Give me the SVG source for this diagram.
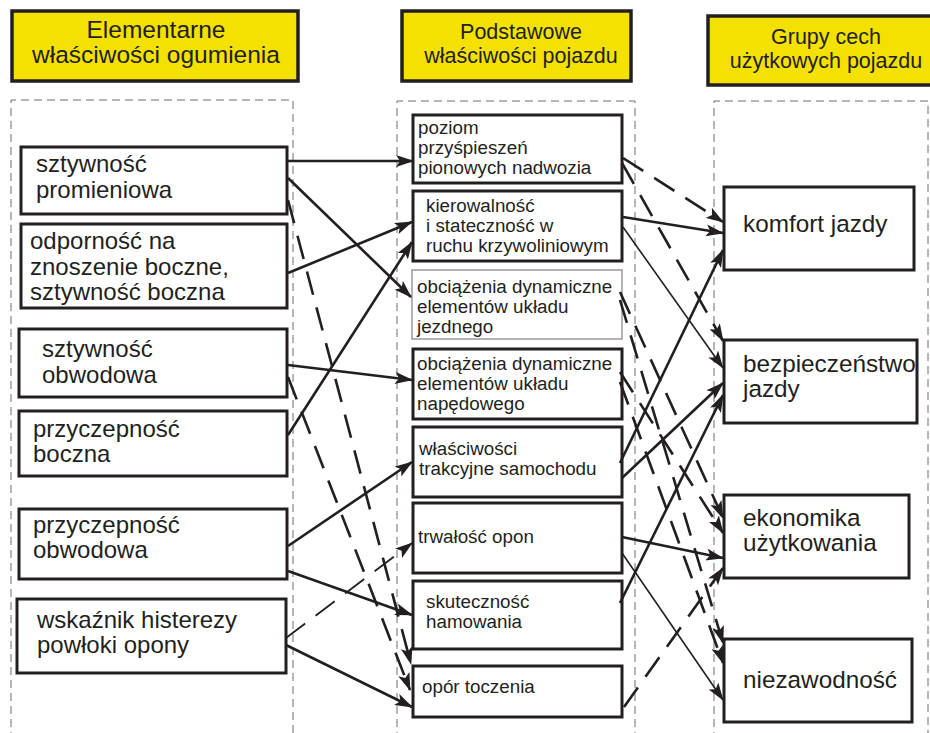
<svg xmlns="http://www.w3.org/2000/svg" width="930" height="733" viewBox="0 0 930 733">
<defs>
<style>
.hdr{fill:#f5e100;stroke:#231f20;stroke-width:3.5}
.col{fill:none;stroke:#6d6e71;stroke-width:1;stroke-dasharray:8 5}
.box{fill:#fff;stroke:#231f20;stroke-width:3}
.thin{fill:#fff;stroke:#8a8a8a;stroke-width:1.3}
text{font-family:"Liberation Sans",Arial,sans-serif;fill:#231f20}
.ht{font-size:24.5px;text-anchor:middle}
.hm{font-size:21.5px;text-anchor:middle}
.lt{font-size:24px}
.mt{font-size:18.8px}
.rt{font-size:24.3px}
.s{fill:none;stroke:#231f20;stroke-width:2.6;marker-end:url(#ah)}
.sn{fill:none;stroke:#231f20;stroke-width:1.6;marker-end:url(#ah)}
.d{fill:none;stroke:#231f20;stroke-width:2.6;stroke-dasharray:24 13;marker-end:url(#ah)}
.dn{fill:none;stroke:#231f20;stroke-width:1.8;stroke-dasharray:24 13;marker-end:url(#ah)}
</style>
<marker id="ah" markerWidth="18" markerHeight="12" refX="17" refY="6" orient="auto" markerUnits="userSpaceOnUse">
<path d="M0,0 L18,6 L0,12 L4,6 z" fill="#231f20"/>
</marker>
</defs>
<rect width="930" height="733" fill="#fff"/>

<g id="columns">
<path class="col" d="M11,740 V100 H293 V740"/>
<path class="col" d="M397,740 V101 H635 V740"/>
<path class="col" d="M714,740 V101 H928 V740"/>
</g>

<g id="header-left">
<rect class="hdr" x="12" y="11" width="286" height="70"/>
<text class="ht" x="156" y="38">Elementarne</text>
<text class="ht" x="156" y="63">właściwości ogumienia</text>
</g>
<g id="header-middle">
<rect class="hdr" x="402" y="11" width="229" height="70"/>
<text class="hm" x="521" y="39">Podstawowe</text>
<text class="hm" x="521" y="63">właściwości pojazdu</text>
</g>
<g id="header-right">
<rect class="hdr" x="708" y="16" width="230" height="69"/>
<text class="hm" x="826" y="44">Grupy cech</text>
<text class="hm" x="826" y="68">użytkowych pojazdu</text>
</g>

<g id="n-sztywnosc-promieniowa">
<rect class="box" x="21" y="147" width="266" height="67"/>
<text class="lt" x="36" y="172">sztywność</text>
<text class="lt" x="36" y="198">promieniowa</text>
</g>
<g id="n-odpornosc">
<rect class="box" x="21" y="224" width="266" height="84"/>
<text class="lt" x="30" y="249">odporność na</text>
<text class="lt" x="30" y="275">znoszenie boczne,</text>
<text class="lt" x="30" y="300">sztywność boczna</text>
</g>
<g id="n-sztywnosc-obwodowa">
<rect class="box" x="19" y="329" width="268" height="68"/>
<text class="lt" x="42" y="357">sztywność</text>
<text class="lt" x="42" y="383">obwodowa</text>
</g>
<g id="n-przyczepnosc-boczna">
<rect class="box" x="19" y="411" width="268" height="65"/>
<text class="lt" x="33" y="437">przyczepność</text>
<text class="lt" x="33" y="462">boczna</text>
</g>
<g id="n-przyczepnosc-obwodowa">
<rect class="box" x="19" y="509" width="268" height="70"/>
<text class="lt" x="33" y="533">przyczepność</text>
<text class="lt" x="33" y="558">obwodowa</text>
</g>
<g id="n-wskaznik">
<rect class="box" x="17" y="599" width="269" height="74"/>
<text class="lt" x="37" y="628">wskaźnik histerezy</text>
<text class="lt" x="37" y="653">powłoki opony</text>
</g>

<g id="n-poziom">
<rect class="box" x="413" y="115" width="209" height="68"/>
<text class="mt" x="418" y="134">poziom</text>
<text class="mt" x="418" y="154">przyśpieszeń</text>
<text class="mt" x="418" y="174">pionowych nadwozia</text>
</g>
<g id="n-kierowalnosc">
<rect class="box" x="413" y="191" width="209" height="70"/>
<text class="mt" x="426" y="212">kierowalność</text>
<text class="mt" x="426" y="232">i stateczność w</text>
<text class="mt" x="426" y="252">ruchu krzywoliniowym</text>
</g>
<g id="n-obciazenia-jezdnego">
<rect class="thin" x="412" y="270" width="210" height="69"/>
<text class="mt" x="417" y="293">obciążenia dynamiczne</text>
<text class="mt" x="417" y="313">elementów układu</text>
<text class="mt" x="417" y="333">jezdnego</text>
</g>
<g id="n-obciazenia-napedowego">
<rect class="box" x="413" y="349" width="209" height="70"/>
<text class="mt" x="417" y="370">obciążenia dynamiczne</text>
<text class="mt" x="417" y="390">elementów układu</text>
<text class="mt" x="417" y="410">napędowego</text>
</g>
<g id="n-trakcyjne">
<rect class="box" x="413" y="427" width="209" height="70"/>
<text class="mt" x="419" y="455">właściwości</text>
<text class="mt" x="419" y="475">trakcyjne samochodu</text>
</g>
<g id="n-trwalosc">
<rect class="box" x="413" y="503" width="209" height="70"/>
<text class="mt" x="418" y="543">trwałość opon</text>
</g>
<g id="n-skutecznosc">
<rect class="box" x="413" y="581" width="209" height="68"/>
<text class="mt" x="426" y="608">skuteczność</text>
<text class="mt" x="426" y="628">hamowania</text>
</g>
<g id="n-opor">
<rect class="box" x="413" y="666" width="209" height="51"/>
<text class="mt" x="422" y="693">opór toczenia</text>
</g>

<g id="n-komfort">
<rect class="box" x="724" y="187" width="190" height="83"/>
<text class="rt" x="743" y="232">komfort jazdy</text>
</g>
<g id="n-bezpieczenstwo">
<rect class="box" x="724" y="340" width="193" height="83"/>
<text class="rt" x="743" y="372">bezpieczeństwo</text>
<text class="rt" x="743" y="397">jazdy</text>
</g>
<g id="n-ekonomika">
<rect class="box" x="724" y="495" width="185" height="83"/>
<text class="rt" x="743" y="526">ekonomika</text>
<text class="rt" x="743" y="551">użytkowania</text>
</g>
<g id="n-niezawodnosc">
<rect class="box" x="724" y="639" width="188" height="83"/>
<text class="rt" x="743" y="688">niezawodność</text>
</g>

<g id="connectors">
<path class="s" d="M288,161 L413,161"/>
<path class="s" d="M288,178 L411,297"/>
<path class="s" d="M288,273 L412,222"/>
<path class="s" d="M288,365 L412,380"/>
<path class="s" d="M288,435 L412,242"/>
<path class="s" d="M288,546 L412,462"/>
<path class="s" d="M288,571 L412,615"/>
<path class="s" d="M286,645 L412,707"/>
<path class="d" d="M288,200 L411,664"/>
<path class="d" d="M288,377 L410,690"/>
<path class="dn" d="M286,638 L412,543"/>

<path class="s" d="M623,217 L723,233"/>
<path class="s" d="M620,463 L723,250"/>
<path class="s" d="M622,478 L723,383"/>
<path class="s" d="M620,603 L723,395"/>
<path class="s" d="M622,537 L723,558"/>
<path class="sn" d="M623,227 L723,368"/>
<path class="sn" d="M622,553 L723,700"/>
<path class="d" d="M623,158 L723,222"/>
<path class="d" d="M622,163 L723,341"/>
<path class="d" d="M624,707 L723,568"/>
<path class="d" d="M620,292 L723,518"/>
<path class="d" d="M620,300 L723,643"/>
<path class="d" d="M620,372 L723,533"/>
<path class="d" d="M620,382 L723,663"/>
</g>
</svg>
